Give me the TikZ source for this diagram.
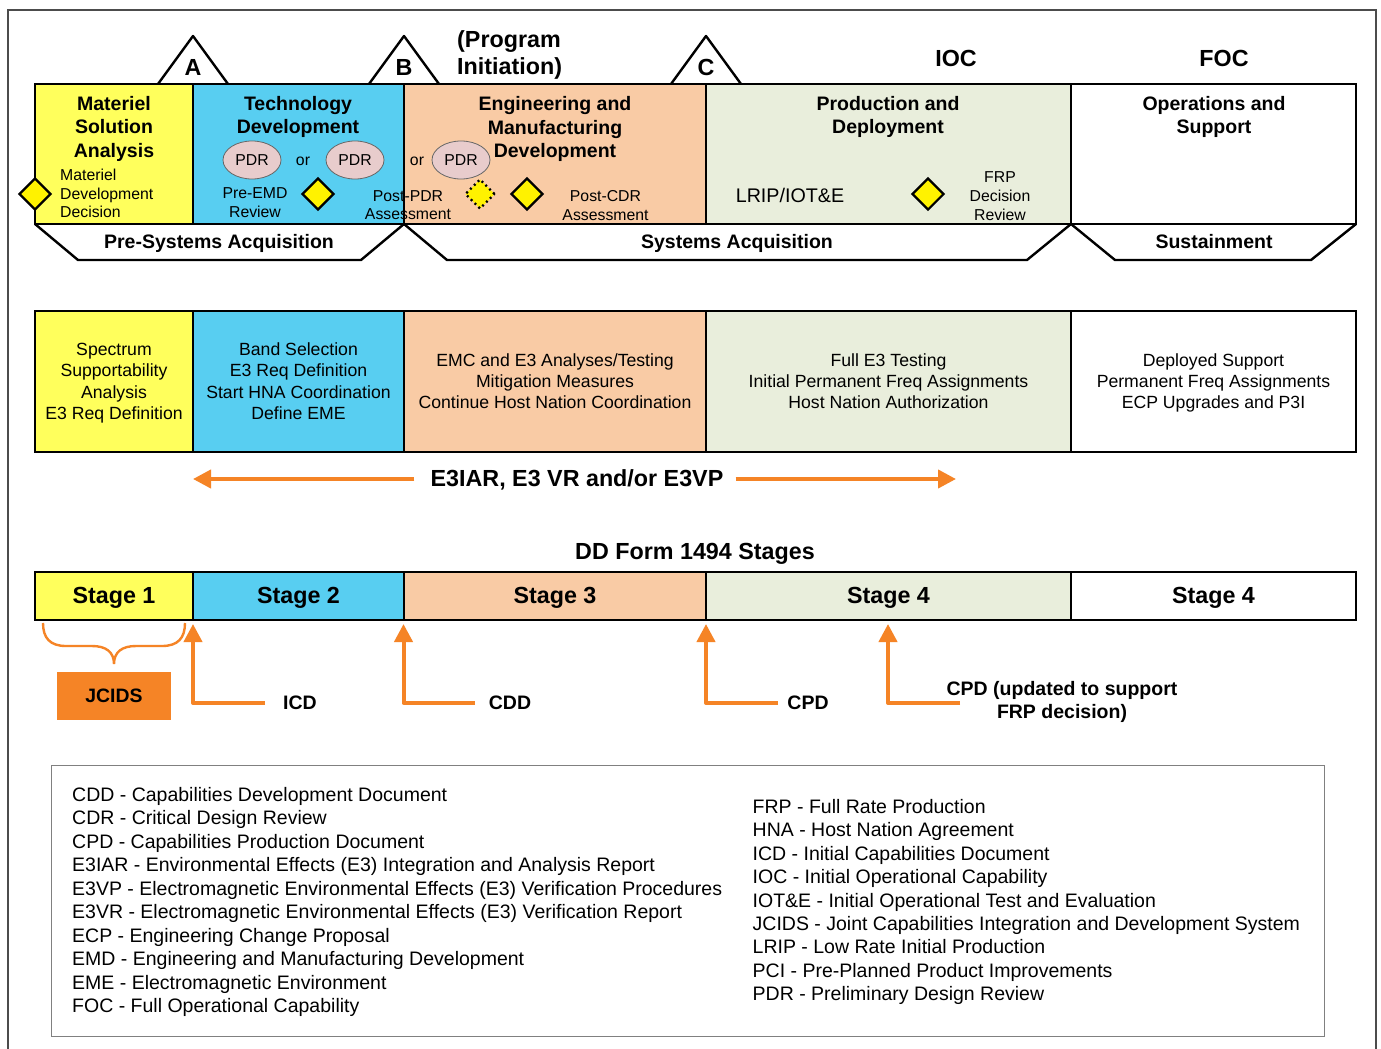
\documentclass[tikz,border=0pt]{standalone}
\usepackage{fontspec}
\setmainfont{Liberation Sans}
\usetikzlibrary{arrows.meta,shapes.geometric}
\definecolor{cyel}{HTML}{FFFF5C}
\definecolor{cblu}{HTML}{58CEF1}
\definecolor{cpea}{HTML}{F9CBA5}
\definecolor{cgrn}{HTML}{E9EEDC}
\definecolor{corg}{HTML}{F58426}
\definecolor{cpdr}{HTML}{E8CCCC}
\newcommand{\fsz}[2]{\fontsize{#1}{#2}\selectfont}
\newcommand{\topst}{\rule{0pt}{16pt}}
\newcommand{\botst}{\rule[-4pt]{0pt}{4pt}}
\tikzset{
 x=1pt,y=-1pt,
 phasebox/.style={draw=black,line width=2.7pt,inner sep=0pt,outer sep=0pt,anchor=north west,align=center,font=\fsz{17.65}{21.1}},
 stagebox/.style={phasebox,font=\fsz{23.3}{27}\bfseries,text height=14pt,text depth=0pt},
 acq/.style={draw=black,line width=2.4pt,fill=white,line join=round},
 head/.style={inner sep=0pt,align=center,font=\fsz{19.5}{23.5}\bfseries},
 small/.style={inner sep=0pt,align=center,font=\fsz{15.8}{18.7}},
 big/.style={inner sep=0pt,align=center,font=\fsz{23.3}{27}\bfseries},
 docl/.style={inner sep=0pt,align=center,font=\fsz{19.5}{23.5}\bfseries},
 legend/.style={inner sep=0pt,anchor=west,align=left,font=\fsz{19.5}{23.45}},
 pdr/.style={ellipse,draw=black!60,line width=.8pt,fill=cpdr,minimum width=58pt,minimum height=38pt,inner sep=0pt,font=\fsz{15.8}{18}},
 dmd/.style={diamond,draw=black,line width=2.2pt,fill=yellow,minimum width=32pt,minimum height=32pt,inner sep=0pt,aspect=1},
 orgarrow/.style={draw=corg,line width=4pt,-{Triangle[length=18pt,width=18pt]},line join=round},
}
\begin{document}
\begin{tikzpicture}
\useasboundingbox (0,0) rectangle (1381,1049);
\fill[white] (0,0) rectangle (1381,1049);
\draw[black!70,line width=1.4pt] (8,1049) -- (8,10) -- (1376,10) -- (1376,1049);
% milestones
\draw[acq] (158,84) -- (193,36) -- (228,84);
\draw[acq] (369,84) -- (404,36) -- (439,84);
\draw[acq] (671,84) -- (706,36) -- (741,84);
\node[big] (ma) at (193,67) {A};
\node[big] (mb) at (404,67) {B};
\node[big] (mc) at (706,67) {C};
\node[big,align=left,anchor=west] (pi) at (457,55) {(Program\\Initiation)};
\node[big] (ioc) at (956,58) {IOC};
\node[big] (foc) at (1224,58) {FOC};
% acquisition bands
\draw[acq] (35,224) -- (78,260) -- (361,260) -- (404,224);
\draw[acq] (404,224) -- (447,260) -- (1027,260) -- (1071,224);
\draw[acq] (1071,224) -- (1115,260) -- (1311,260) -- (1356,224);
\node[head] (pre) at (219,243) {Pre-Systems Acquisition};
\node[head] (sys) at (737,243) {Systems Acquisition};
\node[head] (sus) at (1214,242) {Sustainment};
% phase row
\node[phasebox,fill=cyel,minimum width=158pt,minimum height=140pt] (p1) at (35,84) {};
\node[phasebox,fill=cblu,minimum width=211pt,minimum height=140pt] (p2) at (193,84) {};
\node[phasebox,fill=cpea,minimum width=302pt,minimum height=140pt] (p3) at (404,84) {};
\node[phasebox,fill=cgrn,minimum width=365pt,minimum height=140pt] (p4) at (706,84) {};
\node[phasebox,fill=white,minimum width=285pt,minimum height=140pt] (p5) at (1071,84) {};
\node[head] (h1) at (114,128.5) {Materiel\\Solution\\Analysis};
\node[head] (h2) at (298,117) {Technology\\Development};
\node[head] (h3) at (555,129) {Engineering and\\Manufacturing\\Development};
\node[head] (h4) at (888,117) {Production and\\Deployment};
\node[head] (h5) at (1214,117) {Operations and\\Support};
\node[small,align=left,anchor=west] (mdd) at (60,193.5) {Materiel\\Development\\Decision};
\node[dmd] (d1) at (35,194) {};
\node[pdr] (e1) at (252,160) {PDR};
\node[small] (or1) at (303,161) {or};
\node[pdr] (e2) at (355,160) {PDR};
\node[small] (or2) at (417,161) {or};
\node[pdr] (e3) at (461,160) {PDR};
\node[small] (pemd) at (255,202.5) {Pre-EMD\\Review};
\node[dmd] (d2) at (318,194) {};
\node[small] (ppdr) at (408,205) {Post-PDR\\Assessment};
\node[dmd,dash pattern=on 2pt off 3.4pt,line width=2.4pt,minimum width=30pt,minimum height=30pt] (d3) at (480,194) {};
\node[dmd] (d4) at (527,194) {};
\node[small] (pcdr) at (605.5,205.5) {Post-CDR\\Assessment};
\node[inner sep=0pt,font=\fsz{19.7}{23}] (lrip) at (790,195) {LRIP/IOT\&E};
\node[dmd] (d5) at (928,194) {};
\node[small] (frp) at (1000,196) {FRP\\Decision\\Review};
% E3 row
\node[phasebox,fill=cyel,minimum width=158pt,minimum height=141pt] (r1) at (35,311) {\topst Spectrum\\Supportability\\Analysis\\E3 Req Definition\botst};
\node[phasebox,fill=cblu,minimum width=211pt,minimum height=141pt] (r2) at (193,311) {\topst Band Selection\\E3 Req Definition\\Start HNA Coordination\\Define EME\botst};
\node[phasebox,fill=cpea,minimum width=302pt,minimum height=141pt] (r3) at (404,311) {\topst EMC and E3 Analyses/Testing\\Mitigation Measures\\Continue Host Nation Coordination\botst};
\node[phasebox,fill=cgrn,minimum width=365pt,minimum height=141pt] (r4) at (706,311) {\topst Full E3 Testing\\Initial Permanent Freq Assignments\\Host Nation Authorization\botst};
\node[phasebox,fill=white,minimum width=285pt,minimum height=141pt] (r5) at (1071,311) {\topst Deployed Support\\Permanent Freq Assignments\\ECP Upgrades and P3I\botst};
% E3 arrows
\node[big] (e3lab) at (577,480) {E3IAR, E3 VR and/or E3VP};
\coordinate (e3l) at (193,479);
\coordinate (e3r) at (956,479);
\draw[orgarrow] ([xshift=-16pt]e3lab.west |- e3l) -- (e3l);
\draw[orgarrow] ([xshift=12pt]e3lab.east |- e3r) -- (e3r);
% Stages
\node[big] (dd) at (695,553.5) {DD Form 1494 Stages};
\node[stagebox,fill=cyel,minimum width=158pt,minimum height=48pt] (s1) at (35,572) {Stage 1};
\node[stagebox,fill=cblu,minimum width=211pt,minimum height=48pt] (s2) at (193,572) {Stage 2};
\node[stagebox,fill=cpea,minimum width=302pt,minimum height=48pt] (s3) at (404,572) {Stage 3};
\node[stagebox,fill=cgrn,minimum width=365pt,minimum height=48pt] (s4) at (706,572) {Stage 4};
\node[stagebox,fill=white,minimum width=285pt,minimum height=48pt] (s5) at (1071,572) {Stage 4};
% JCIDS
\node[fill=corg,minimum width=114pt,minimum height=48pt,inner sep=0pt,font=\fsz{19.4}{22}\bfseries] (jc) at (114,696) {JCIDS};
\draw[corg,line width=2.4pt] (43,623) .. controls (43,638) and (50,646) .. (66,646) -- (92,646) .. controls (106,646) and (114,652) .. (114,664) .. controls (114,652) and (122,646) .. (136,646) -- (162,646) .. controls (178,646) and (185,638) .. (185,623);
% documents
\node[docl] (icd) at (300,703) {ICD};
\node[docl] (cdd) at (510,703) {CDD};
\node[docl] (cpd) at (808,703) {CPD};
\node[docl] (cpd2) at (1062,702) {CPD (updated to support\\FRP decision)};
\coordinate (ticd) at (193,624);
\coordinate (tcdd) at (403.5,624);
\coordinate (tcpd) at (706,624);
\coordinate (tcp2) at (888,624);
\coordinate (bicd) at (265,703);
\coordinate (bcdd) at (475,703);
\coordinate (bcpd) at (778,703);
\coordinate (bcp2) at (960,703);
\draw[orgarrow] (bicd) -| (ticd);
\draw[orgarrow] (bcdd) -| (tcdd);
\draw[orgarrow] (bcpd) -| (tcpd);
\draw[orgarrow] (bcp2) -| (tcp2);
% legend
\draw[black!50,line width=1pt] (51,765) rectangle (1324.5,1036);
\node[legend] (ll) at (72,902) {CDD - Capabilities Development Document\\CDR - Critical Design Review\\CPD - Capabilities Production Document\\E3IAR - Environmental Effects (E3) Integration and Analysis Report\\E3VP - Electromagnetic Environmental Effects (E3) Verification Procedures\\E3VR - Electromagnetic Environmental Effects (E3) Verification Report\\ECP - Engineering Change Proposal\\EMD - Engineering and Manufacturing Development\\EME - Electromagnetic Environment\\FOC - Full Operational Capability};
\node[legend] (lr) at (752.5,902) {FRP - Full Rate Production\\HNA - Host Nation Agreement\\ICD - Initial Capabilities Document\\IOC - Initial Operational Capability\\IOT\&E - Initial Operational Test and Evaluation\\JCIDS - Joint Capabilities Integration and Development System\\LRIP - Low Rate Initial Production\\PCI - Pre-Planned Product Improvements\\PDR - Preliminary Design Review};
\end{tikzpicture}
\end{document}
